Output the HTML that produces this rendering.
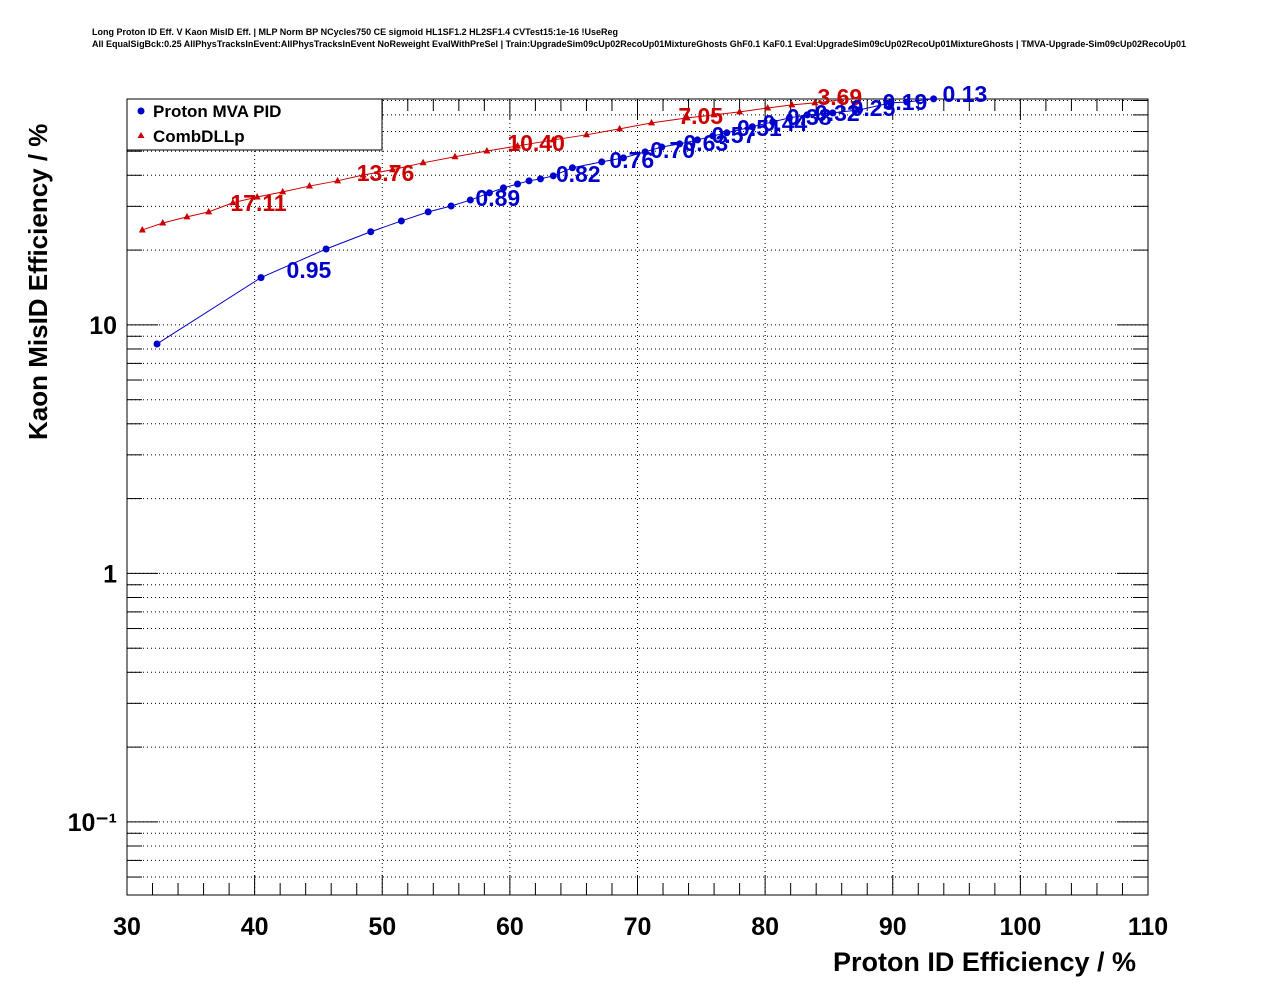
<!DOCTYPE html>
<html><head><meta charset="utf-8"><style>
body{margin:0;background:#fff;}
svg text{font-family:"Liberation Sans",sans-serif;font-weight:bold;}
</style></head><body>
<svg id="c" width="1276" height="996" xmlns="http://www.w3.org/2000/svg">
<text x="92" y="35" font-size="9" textLength="526">Long Proton ID Eff. V Kaon MisID Eff. | MLP Norm BP NCycles750 CE sigmoid HL1SF1.2 HL2SF1.4 CVTest15:1e-16 !UseReg</text>
<text x="92" y="47" font-size="9" textLength="1094">All EqualSigBck:0.25 AllPhysTracksInEvent:AllPhysTracksInEvent NoReweight EvalWithPreSel | Train:UpgradeSim09cUp02RecoUp01MixtureGhosts GhF0.1 KaF0.1 Eval:UpgradeSim09cUp02RecoUp01MixtureGhosts | TMVA-Upgrade-Sim09cUp02RecoUp01</text>
<g id="grid"></g>
<g id="axes"></g>
<g id="series"></g>
<g>
<rect x="127" y="99" width="255" height="51" fill="#fff" stroke="#000" stroke-width="1"/>
<circle cx="141" cy="111" r="3.5" fill="#0000cc"/>
<text x="153" y="117" font-size="17">Proton MVA PID</text>
<polygon points="141,132 137.5,138 144.5,138" fill="#cc0000"/>
<text x="153" y="142" font-size="17">CombDLLp</text>
</g>
<text x="1136" y="971" font-size="27" text-anchor="end">Proton ID Efficiency / %</text>
<text transform="translate(47,440) rotate(-90)" font-size="26">Kaon MisID Efficiency / %</text>
</svg>
<script>
const blueX=[32.35,40.5,45.6,49.1,51.5,53.6,55.4,56.9,58.4,59.5,60.6,61.5,62.4,63.4,64.9,67.2,68.9,70.6,71.9,73.3,74.7,75.9,77.0,79.0,80.6,81.9,83.3,85.3,87.4,89.8,91.1,93.2];
const blueY=[8.38,15.5,20.2,23.7,26.2,28.5,30.1,31.8,34.0,35.6,36.9,38.0,38.7,39.8,42.9,45.3,47.0,49.7,52.0,53.5,55.5,57.6,59.3,62.7,65.6,68.1,70.0,71.3,73.3,78.2,78.9,81.2];
const redX=[31.2,32.8,34.7,36.4,38.3,40.2,42.2,44.3,46.5,48.5,50.8,53.2,55.7,58.2,60.6,63.4,66.0,68.6,71.1,73.9,76.0,78.0,80.2,82.1,83.9,85.9];
const redY=[24.1,25.7,27.2,28.5,31.0,32.7,34.3,36.2,38.0,40.1,42.1,44.9,47.5,50.1,52.5,55.5,58.2,61.5,65.0,68.1,70.0,72.0,74.6,76.8,78.2,80.4];
const blueLabels=["0.95","0.89","0.82","0.76","0.70","0.63","0.57","0.51","0.44","0.38","0.32","0.25","0.19","0.13"];
const blueLabelX=[42.5,57.3,63.6,67.8,71.0,73.6,75.8,77.8,79.8,81.7,83.9,86.7,89.2,93.9];
const blueLabelY=[16.6,32.4,40.5,46.1,50.6,54.0,58.2,62.1,65.0,68.7,71.3,74.6,78.9,85.1];
const redLabels=["17.11","13.76","10.40","7.05","3.69"];
const redLabelX=[38.1,48.0,59.8,73.2,84.1];
const redLabelY=[31.0,40.9,54.0,69.3,82.7];
const xTicks=[30,40,50,60,70,80,90,100,110];
const yMajor=[0.1,1,10];
const yMajorLabels=["10\u207B\u00B9","1","10"];

const L=127,R=1148,T=99,B=895;
const xMin=30,xMax=110;
const yTopLog=Math.log10(81.1),yBotLog=Math.log10(0.0508);
const sx=v=>L+(v-xMin)/(xMax-xMin)*(R-L);
const sy=v=>T+(yTopLog-Math.log10(v))/(yTopLog-yBotLog)*(B-T);
const NS="http://www.w3.org/2000/svg";
function mk(tag,attrs,parent){const e=document.createElementNS(NS,tag);for(const k in attrs)e.setAttribute(k,attrs[k]);parent.appendChild(e);return e;}
const grid=document.getElementById('grid'),axes=document.getElementById('axes'),series=document.getElementById('series');
xTicks.forEach(v=>{if(v>xMin&&v<xMax){const g=mk('line',{x1:sx(v),x2:sx(v),y1:T,y2:B,stroke:'#000','stroke-width':1,'stroke-dasharray':'1,3'},grid);

}});
const yMinor=[];
for(let d=-2;d<=1;d++)for(let m=1;m<=9;m++){const v=m*Math.pow(10,d);if(v>=0.0508&&v<=81.1)yMinor.push(v);}
yMinor.forEach(v=>{const y=sy(v);
const g=mk('line',{x1:L,x2:R,y1:y,y2:y,stroke:'#000','stroke-width':1,'stroke-dasharray':'1,3'},grid);


const major=yMajor.some(m=>Math.abs(m-v)<1e-9);
mk('line',{x1:L,x2:L+(major?31:15),y1:y,y2:y,stroke:'#000'},axes);
mk('line',{x1:R,x2:R-(major?31:15),y1:y,y2:y,stroke:'#000'},axes);});
mk('rect',{x:L,y:T,width:R-L,height:B-T,fill:'none',stroke:'#000','stroke-width':1},axes);
for(let v=xMin;v<=xMax;v+=2){const x=sx(v);const major=v%10===0;const len=major?20:12;
mk('line',{x1:x,x2:x,y1:B,y2:B-len,stroke:'#000'},axes);
mk('line',{x1:x,x2:x,y1:T,y2:T+len,stroke:'#000'},axes);}
xTicks.forEach(v=>{const t=mk('text',{x:sx(v),y:935,'font-size':25,'text-anchor':'middle'},axes);t.textContent=v;

});
yMajor.forEach((v,i)=>{const t=mk('text',{x:117,y:sy(v)+9,'font-size':25,'text-anchor':'end'},axes);t.textContent=yMajorLabels[i];

});
function draw(X,Y,col,tri,name){
 const pl=mk('polyline',{points:X.map((x,i)=>sx(x)+','+sy(Y[i])).join(' '),fill:'none',stroke:col,'stroke-width':1},series);
 
 
 X.forEach((x,i)=>{const cx=sx(x),cy=sy(Y[i]);let m;
  if(tri)m=mk('polygon',{points:`${cx},${cy-4} ${cx-3.5},${cy+2.5} ${cx+3.5},${cy+2.5}`,fill:col},series);
  else m=mk('circle',{cx:cx,cy:cy,r:3.5,fill:col},series);
  
  });
}
draw(redX,redY,'#cc0000',true,'combdllp');
draw(blueX,blueY,'#0000cc',false,'mva');
function labels(T_,X,Y,col,name){T_.forEach((s,i)=>{const t=mk('text',{x:sx(X[i]),y:sy(Y[i])+8,'font-size':23,fill:col},series);t.textContent=s;

});}
labels(redLabels,redLabelX,redLabelY,'#cc0000','combdllp');
labels(blueLabels,blueLabelX,blueLabelY,'#0000cc','mva');
</script>
</body></html>
